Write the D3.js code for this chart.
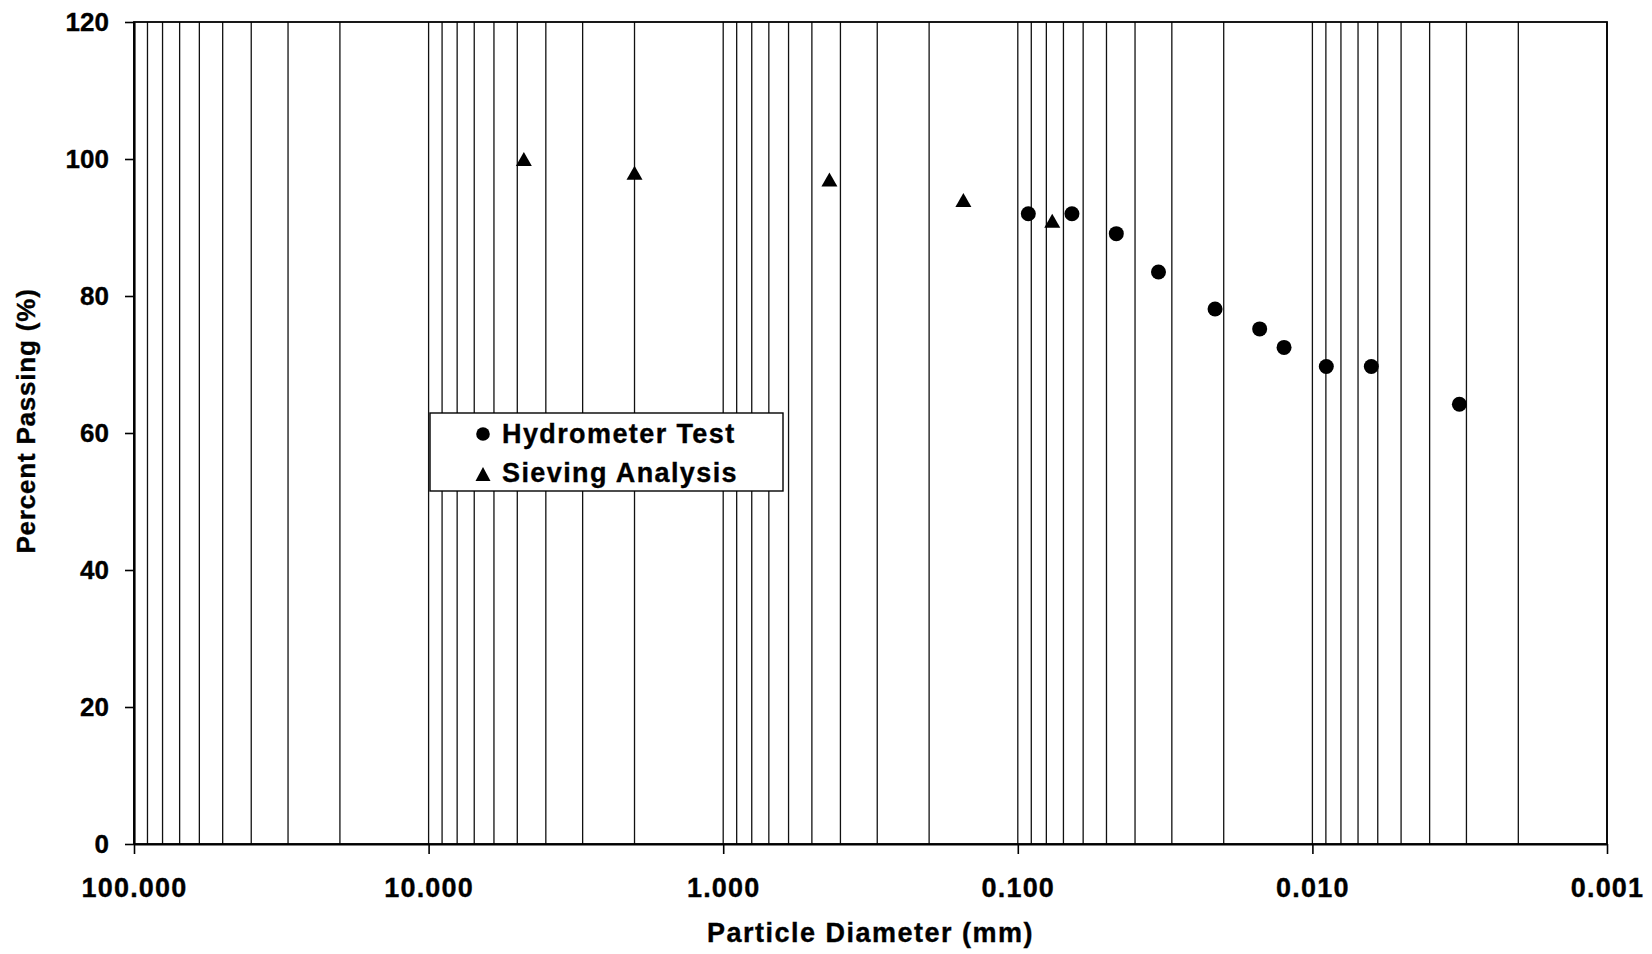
<!DOCTYPE html>
<html>
<head>
<meta charset="utf-8">
<script src="https://cdn.jsdelivr.net/npm/d3@7/dist/d3.min.js"></script>
<style>
  html, body { margin: 0; padding: 0; background: #fff; }
  svg { display: block; font-family: "Liberation Sans", Arial, Helvetica, sans-serif; font-weight: bold; }
  text { stroke: #000; stroke-width: 0.35px; }
</style>
</head>
<body>
<svg id="chart" width="1652" height="954"></svg>
<script>
// ---- data ----
const xTickValues = [100, 10, 1, 0.1, 0.01, 0.001];
const xTickLabels = ["100.000", "10.000", "1.000", "0.100", "0.010", "0.001"];
const yTickValues = [0, 20, 40, 60, 80, 100, 120];

const sieveDiameter = [4.75, 2.0, 0.436, 0.153, 0.0764];
const sievePassing  = [100, 98, 97, 94, 91];

const hydroDiameter = [0.0921, 0.0655, 0.0463, 0.0333, 0.0214, 0.0151, 0.01248, 0.00897, 0.00631, 0.00317];
const hydroPassing  = [92.0, 92.0, 89.1, 83.5, 78.1, 75.2, 72.5, 69.7, 69.7, 64.2];

const seriesNames = ["Hydrometer Test", "Sieving Analysis"];

// ---- layout ----
const svg = d3.select("#chart");
const mLeft = 134, mRight = 1607, mTop = 22, mBottom = 844;

const x = d3.scaleLog().domain([100, 0.001]).range([mLeft, mRight]);
const y = d3.scaleLinear().domain([0, 120]).range([mBottom, mTop]);

// vertical log gridlines
svg.append("g")
  .selectAll("line")
  .data(x.ticks())
  .join("line")
  .attr("x1", d => x(d)).attr("x2", d => x(d))
  .attr("y1", mTop).attr("y2", mBottom)
  .attr("stroke", "#111")
  .attr("stroke-width", 1.3);

// plot border (top, right)
svg.append("rect")
  .attr("x", mLeft).attr("y", mTop)
  .attr("width", mRight - mLeft).attr("height", mBottom - mTop)
  .attr("fill", "none").attr("stroke", "#000").attr("stroke-width", 1.8);

// x axis
const xAxis = d3.axisBottom(x)
  .tickValues(xTickValues)
  .tickFormat((d, i) => xTickLabels[i])
  .tickSizeInner(10).tickSizeOuter(0).tickPadding(24);
const gx = svg.append("g").attr("transform", `translate(0,${mBottom})`).call(xAxis);
gx.select(".domain").attr("stroke", "#000").attr("stroke-width", 2.2);
gx.selectAll(".tick line").attr("stroke", "#000").attr("stroke-width", 1.6);
gx.selectAll(".tick text")
  .attr("fill", "#000")
  .style("font-size", "27px")
  .style("letter-spacing", "1.2px")
  .style("font-family", "'Liberation Sans', Arial, sans-serif")
  .style("font-weight", "bold");

// y axis
const yAxis = d3.axisLeft(y)
  .tickValues(yTickValues)
  .tickSizeInner(9).tickSizeOuter(0).tickPadding(16);
const gy = svg.append("g").attr("transform", `translate(${mLeft},0)`).call(yAxis);
gy.select(".domain").attr("stroke", "#000").attr("stroke-width", 2.2);
gy.selectAll(".tick line").attr("stroke", "#000").attr("stroke-width", 1.6);
gy.selectAll(".tick text")
  .attr("fill", "#000")
  .style("font-size", "26px")
  .style("font-family", "'Liberation Sans', Arial, sans-serif")
  .style("font-weight", "bold");

// axis titles
svg.append("text")
  .attr("x", (mLeft + mRight) / 2).attr("y", 942)
  .attr("text-anchor", "middle")
  .style("font-size", "27px").style("letter-spacing", "1.5px")
  .text("Particle Diameter (mm)");

svg.append("text")
  .attr("transform", `translate(35,${(mTop + mBottom) / 2 - 12}) rotate(-90)`)
  .attr("text-anchor", "middle")
  .style("font-size", "26px").style("letter-spacing", "0.8px")
  .text("Percent Passing (%)");

// markers
const tri = (cx, cy, w, h) => `M${cx},${cy - h / 2}L${cx + w / 2},${cy + h / 2}L${cx - w / 2},${cy + h / 2}Z`;

const hydro = hydroDiameter.map((d, i) => ({ d, p: hydroPassing[i] }));
const sieve = sieveDiameter.map((d, i) => ({ d, p: sievePassing[i] }));

svg.append("g").selectAll("circle")
  .data(hydro).join("circle")
  .attr("cx", d => x(d.d)).attr("cy", d => y(d.p))
  .attr("r", 7.5).attr("fill", "#000");

svg.append("g").selectAll("path")
  .data(sieve).join("path")
  .attr("d", d => tri(x(d.d), y(d.p), 16, 14))
  .attr("fill", "#000");

// legend
const lg = svg.append("g");
lg.append("rect")
  .attr("x", 430).attr("y", 413).attr("width", 353).attr("height", 78)
  .attr("fill", "#fff").attr("stroke", "#000").attr("stroke-width", 1.4);
lg.append("circle").attr("cx", 483).attr("cy", 434).attr("r", 6.8).attr("fill", "#000");
lg.append("path").attr("d", tri(483, 474, 15, 14)).attr("fill", "#000");
lg.append("text").attr("x", 502).attr("y", 443)
  .style("font-size", "27px").style("letter-spacing", "1.4px").text(seriesNames[0]);
lg.append("text").attr("x", 502).attr("y", 482)
  .style("font-size", "27px").style("letter-spacing", "1.4px").text(seriesNames[1]);
</script>
</body>
</html>
